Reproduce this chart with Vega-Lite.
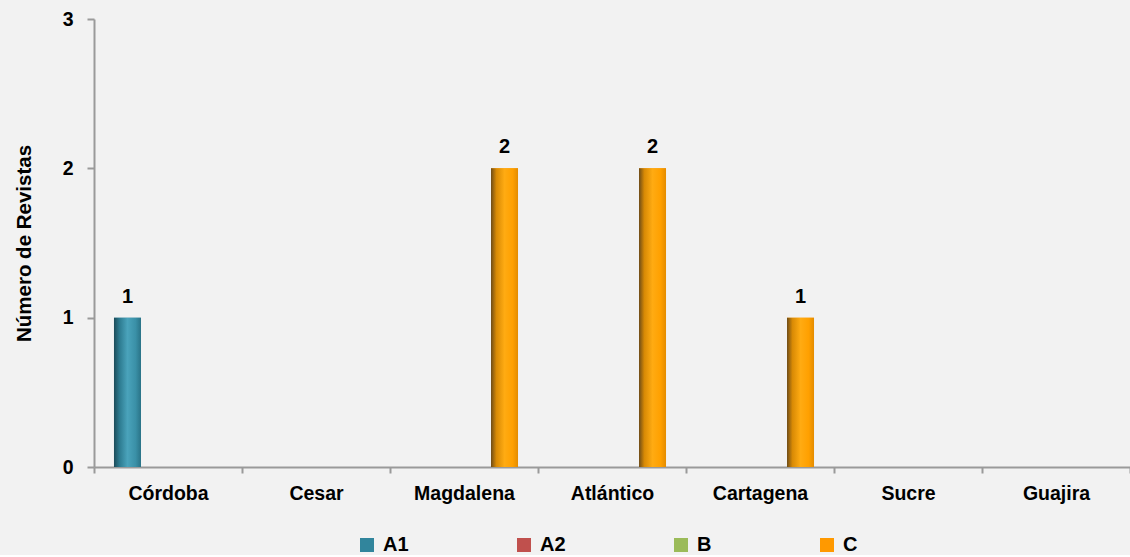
{
  "$schema": "https://vega.github.io/schema/vega-lite/v6.json",
  "width": 1036,
  "height": 448,
  "background": "#F2F2F2",
  "autosize": {"type": "pad"},
  "padding": {"left": 14, "top": 9, "right": 0, "bottom": 0},
  "config": {
    "view": {"stroke": null},
    "font": "Liberation Sans, Arial, sans-serif"
  },
  "data": {
    "values": [
      {"region": "Córdoba", "series": "A1", "value": 1},
      {"region": "Córdoba", "series": "A2", "value": 0},
      {"region": "Córdoba", "series": "B", "value": 0},
      {"region": "Córdoba", "series": "C", "value": 0},
      {"region": "Cesar", "series": "A1", "value": 0},
      {"region": "Cesar", "series": "A2", "value": 0},
      {"region": "Cesar", "series": "B", "value": 0},
      {"region": "Cesar", "series": "C", "value": 0},
      {"region": "Magdalena", "series": "A1", "value": 0},
      {"region": "Magdalena", "series": "A2", "value": 0},
      {"region": "Magdalena", "series": "B", "value": 0},
      {"region": "Magdalena", "series": "C", "value": 2},
      {"region": "Atlántico", "series": "A1", "value": 0},
      {"region": "Atlántico", "series": "A2", "value": 0},
      {"region": "Atlántico", "series": "B", "value": 0},
      {"region": "Atlántico", "series": "C", "value": 2},
      {"region": "Cartagena", "series": "A1", "value": 0},
      {"region": "Cartagena", "series": "A2", "value": 0},
      {"region": "Cartagena", "series": "B", "value": 0},
      {"region": "Cartagena", "series": "C", "value": 1},
      {"region": "Sucre", "series": "A1", "value": 0},
      {"region": "Sucre", "series": "A2", "value": 0},
      {"region": "Sucre", "series": "B", "value": 0},
      {"region": "Sucre", "series": "C", "value": 0},
      {"region": "Guajira", "series": "A1", "value": 0},
      {"region": "Guajira", "series": "A2", "value": 0},
      {"region": "Guajira", "series": "B", "value": 0},
      {"region": "Guajira", "series": "C", "value": 0}
    ]
  },
  "encoding": {
    "x": {
      "field": "region",
      "type": "nominal",
      "sort": null,
      "scale": {"paddingInner": 0, "paddingOuter": 0},
      "axis": {
        "title": null,
        "labelAngle": 0,
        "tickBand": "extent",
        "domainColor": "#9a9a9a",
        "domainWidth": 2,
        "tickColor": "#9a9a9a",
        "tickWidth": 2,
        "tickSize": 6,
        "labelFontWeight": "bold",
        "labelFontSize": 19.5,
        "labelColor": "#000000",
        "labelPadding": 11
      }
    },
    "xOffset": {
      "field": "series",
      "type": "nominal",
      "scale": {"domain": ["A1", "A2", "B", "C"], "paddingInner": 0, "paddingOuter": 0.74}
    },
    "y": {
      "field": "value",
      "type": "quantitative",
      "scale": {"domain": [0, 3], "nice": false},
      "axis": {
        "title": "Número de Revistas",
        "titleFontSize": 20.5,
        "titleFontWeight": "bold",
        "titleColor": "#000000",
        "titlePadding": 28,
        "values": [0, 1, 2, 3],
        "format": "d",
        "grid": false,
        "domainColor": "#9a9a9a",
        "domainWidth": 2,
        "tickColor": "#9a9a9a",
        "tickWidth": 2,
        "tickSize": 7,
        "labelFontWeight": "bold",
        "labelFontSize": 19.5,
        "labelColor": "#000000",
        "labelPadding": 14
      }
    }
  },
  "layer": [
    {
      "mark": {"type": "bar"},
      "encoding": {
        "color": {
          "field": "series",
          "type": "nominal",
          "scale": {"domain": ["A1", "A2", "B", "C"], "range": ["#31859C", "#C0504D", "#9BBB59", "#FF9900"]},
          "legend": {
            "title": null,
            "orient": "none",
            "direction": "horizontal",
            "columns": 4,
            "legendX": 263,
            "legendY": 516,
            "symbolType": "square",
            "symbolSize": 196,
            "symbolStrokeWidth": 0,
            "labelFontSize": 20,
            "labelFontWeight": "bold",
            "labelColor": "#000000",
            "labelOffset": 6,
            "columnPadding": 105
          }
        }
      }
    },
    {
      "transform": [{"filter": "datum.series === 'A1' && datum.value > 0"}],
      "mark": {
        "type": "bar",
        "fill": {
          "gradient": "linear",
          "x1": 0, "x2": 1, "y1": 0, "y2": 0,
          "stops": [
            {"offset": 0, "color": "#1c4b59"},
            {"offset": 0.2, "color": "#2c7a8f"},
            {"offset": 0.5, "color": "#4aa3bb"},
            {"offset": 0.8, "color": "#3a90a7"},
            {"offset": 1, "color": "#2a7387"}
          ]
        }
      }
    },
    {
      "transform": [{"filter": "datum.series === 'C' && datum.value > 0"}],
      "mark": {
        "type": "bar",
        "fill": {
          "gradient": "linear",
          "x1": 0, "x2": 1, "y1": 0, "y2": 0,
          "stops": [
            {"offset": 0, "color": "#6e4c18"},
            {"offset": 0.2, "color": "#d88a05"},
            {"offset": 0.5, "color": "#ffab12"},
            {"offset": 0.8, "color": "#ffa000"},
            {"offset": 1, "color": "#e48c00"}
          ]
        }
      }
    },
    {
      "transform": [{"filter": "datum.value > 0"}],
      "mark": {
        "type": "text",
        "baseline": "alphabetic",
        "dy": -15,
        "fontSize": 20,
        "fontWeight": "bold",
        "color": "#000000"
      },
      "encoding": {"text": {"field": "value", "type": "quantitative"}}
    }
  ]
}
